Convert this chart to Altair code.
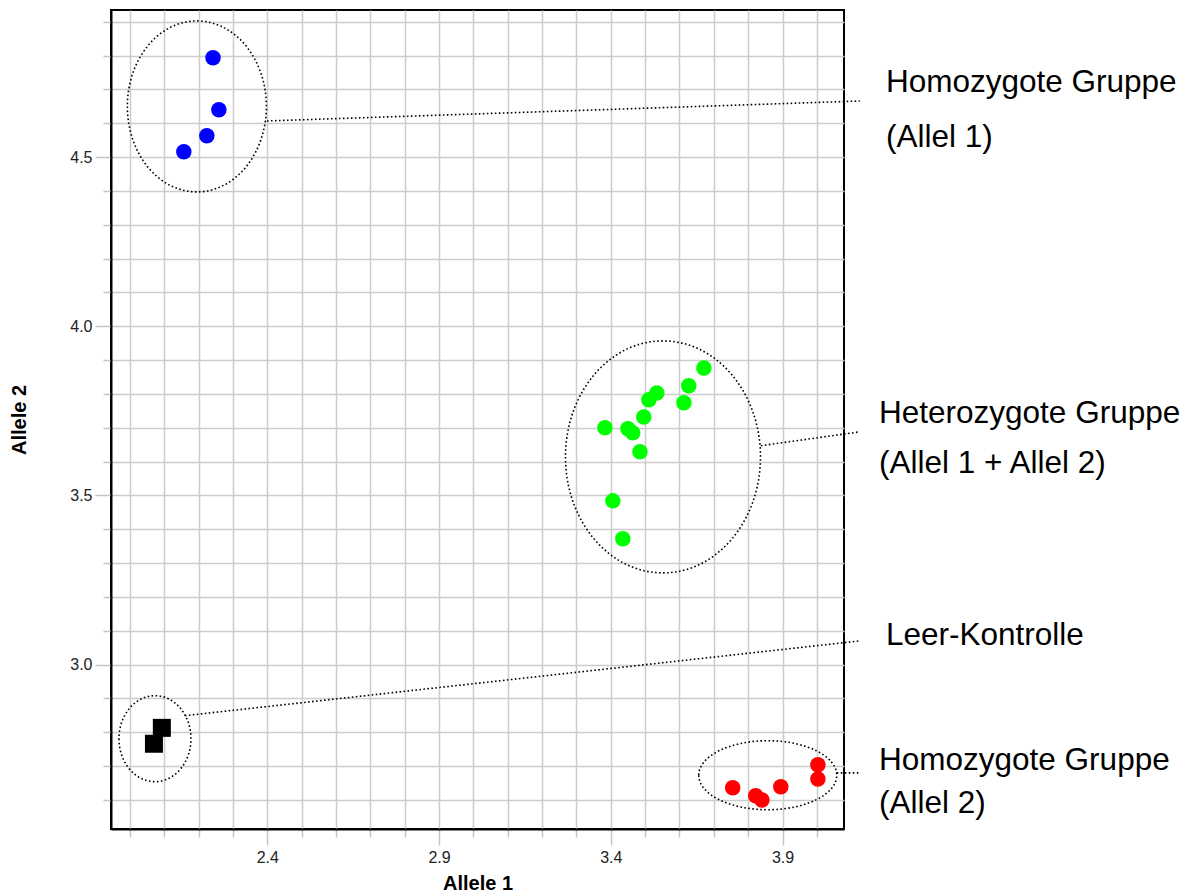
import altair as alt
import pandas as pd

# ---------------- data ----------------
blue_x = [2.242, 2.259, 2.224, 2.157]
blue_y = [4.794, 4.640, 4.563, 4.516]

green_x = [3.671, 3.627, 3.613, 3.534, 3.511, 3.496, 3.383, 3.450, 3.464, 3.485, 3.406, 3.435]
green_y = [3.877, 3.824, 3.774, 3.803, 3.783, 3.732, 3.700, 3.697, 3.685, 3.629, 3.484, 3.372]

red_x = [3.755, 3.822, 3.840, 3.895, 4.003, 4.003]
red_y = [2.636, 2.612, 2.600, 2.639, 2.704, 2.662]

black_x = [2.093, 2.070]
black_y = [2.813, 2.766]

# group ellipses (centre in data units)
ellipse_group = ["Allel 1", "Allel 1 + Allel 2", "Allel 2", "Leer"]
ellipse_x = [2.195, 3.552, 3.857, 2.073]
ellipse_y = [4.650, 3.614, 2.673, 2.781]

# connector lines
conn_x = [2.399, 3.837, 4.058, 2.160]
conn_y = [4.607, 3.647, 2.680, 2.849]
conn_x2 = [4.125, 4.125, 4.125, 4.125]
conn_y2 = [4.666, 3.688, 2.680, 3.070]

# annotation texts
ann_text = ["Homozygote Gruppe", "(Allel 1)", "Heterozygote Gruppe",
            "(Allel 1 + Allel 2)", "Leer-Kontrolle", "Homozygote Gruppe", "(Allel 2)"]
ann_x = [4.201, 4.201, 4.181, 4.181, 4.201, 4.181, 4.181]
ann_y = [4.693, 4.531, 3.715, 3.567, 3.058, 2.689, 2.562]

# axes
x_ticks = [2.0, 2.1, 2.2, 2.3, 2.4, 2.5, 2.6, 2.7, 2.8, 2.9, 3.0, 3.1, 3.2, 3.3,
           3.4, 3.5, 3.6, 3.7, 3.8, 3.9, 4.0]
x_labels = ["2.4", "2.9", "3.4", "3.9"]
y_ticks = [2.6, 2.7, 2.8, 2.9, 3.0, 3.1, 3.2, 3.3, 3.4, 3.5, 3.6, 3.7, 3.8, 3.9,
           4.0, 4.1, 4.2, 4.3, 4.4, 4.5, 4.6, 4.7, 4.8, 4.9]
y_labels = ["3.0", "3.5", "4.0", "4.5"]
x_domain = [1.945, 4.079]
y_domain = [2.514, 4.935]

# ---------------- styles ----------------
ellipse_rx_px = [69.5, 97.5, 69.0, 36.0]
ellipse_ry_px = [85.5, 116.0, 34.5, 43.0]
FONT = "Liberation Sans"
DASH = [1.6, 2.4]


def ellipse_path(rx, ry):
    r = max(rx, ry)
    a, b = rx / r, ry / r
    return f"M{-a:.4f},0A{a:.4f},{b:.4f} 0 1,0 {a:.4f},0A{a:.4f},{b:.4f} 0 1,0 {-a:.4f},0Z"


pts = pd.DataFrame({
    "x": blue_x + green_x + red_x,
    "y": blue_y + green_y + red_y,
    "col": ["#0000ff"] * len(blue_x) + ["#00ff00"] * len(green_x) + ["#ff0000"] * len(red_x),
})
sq = pd.DataFrame({"x": black_x, "y": black_y})
ell = pd.DataFrame({
    "g": ellipse_group,
    "x": ellipse_x,
    "y": ellipse_y,
    "path": [ellipse_path(a, b) for a, b in zip(ellipse_rx_px, ellipse_ry_px)],
    "size": [(2 * max(a, b)) ** 2 for a, b in zip(ellipse_rx_px, ellipse_ry_px)],
})
conn = pd.DataFrame({"x": conn_x, "y": conn_y, "x2": conn_x2, "y2": conn_y2})
ann = pd.DataFrame({"t": ann_text, "x": ann_x, "y": ann_y})

xs = alt.Scale(domain=x_domain, nice=False, zero=False)
ys = alt.Scale(domain=y_domain, nice=False, zero=False)


def lab_expr(labels):
    arr = "[" + ",".join(f"'{l}'" for l in labels) + "]"
    return f"indexof({arr}, format(datum.value, '.1f')) >= 0 ? format(datum.value, '.1f') : ''"


def tick_test(labels):
    arr = "[" + ",".join(f"'{l}'" for l in labels) + "]"
    return f"indexof({arr}, format(datum.value, '.1f')) >= 0"


x_axis = alt.Axis(
    values=x_ticks, grid=True, gridColor="#cccccc", gridWidth=1.5,
    tickColor="#c4c4c4", tickWidth=1.5,
    tickSize={"condition": {"test": tick_test(x_labels), "value": 16}, "value": 8},
    labelExpr=lab_expr(x_labels), labelFont=FONT, labelFontSize=16, labelColor="#222222",
    labelPadding=4, labelFlush=False, labelOverlap=False,
    domainColor="black", domainWidth=2,
    title="Allele 1", titleFont=FONT, titleFontSize=20, titleFontWeight="bold",
    titleColor="black", titlePadding=8,
)
y_axis = alt.Axis(
    values=y_ticks, grid=True, gridColor="#cccccc", gridWidth=1.5,
    tickColor="#c4c4c4", tickWidth=1.5,
    tickSize={"condition": {"test": tick_test(y_labels), "value": 16}, "value": 8},
    labelExpr=lab_expr(y_labels), labelFont=FONT, labelFontSize=16, labelColor="#222222",
    labelPadding=3, labelFlush=False, labelOverlap=False,
    domainColor="black", domainWidth=2,
    title="Allele 2", titleFont=FONT, titleFontSize=20, titleFontWeight="bold",
    titleColor="black", titlePadding=40,
)

X = alt.X("x:Q", scale=xs, axis=x_axis)
Y = alt.Y("y:Q", scale=ys, axis=y_axis)

points = alt.Chart(pts).mark_circle(size=240, opacity=1).encode(
    x=X, y=Y, color=alt.Color("col:N", scale=None),
)

squares = alt.Chart(sq).mark_square(size=324, opacity=1, color="black").encode(
    x=X, y=Y,
)

ellipses = alt.Chart(ell).mark_point(
    filled=False, color="black", strokeWidth=1.6, strokeDash=DASH, opacity=1
).encode(
    x=X, y=Y,
    shape=alt.Shape("path:N", scale=None),
    size=alt.Size("size:Q", scale=None),
)

connectors = alt.Chart(conn).mark_rule(
    color="black", strokeWidth=1.6, strokeDash=DASH
).encode(
    x=X, y=Y, x2="x2:Q", y2="y2:Q",
)

texts = alt.Chart(ann).mark_text(
    align="left", baseline="alphabetic", font=FONT, fontSize=31.5, color="black"
).encode(
    x=X, y=Y, text="t:N",
)

chart = alt.layer(points, squares, ellipses, connectors, texts).properties(
    width=733, height=819,
    autosize=alt.AutoSizeParams(type="none"),
    padding={"left": 111, "top": 10, "right": 349, "bottom": 65},
    background="white",
).configure_view(stroke="black", strokeWidth=2)

chart.save("out.html", embed_options={"renderer": "svg", "actions": False})
